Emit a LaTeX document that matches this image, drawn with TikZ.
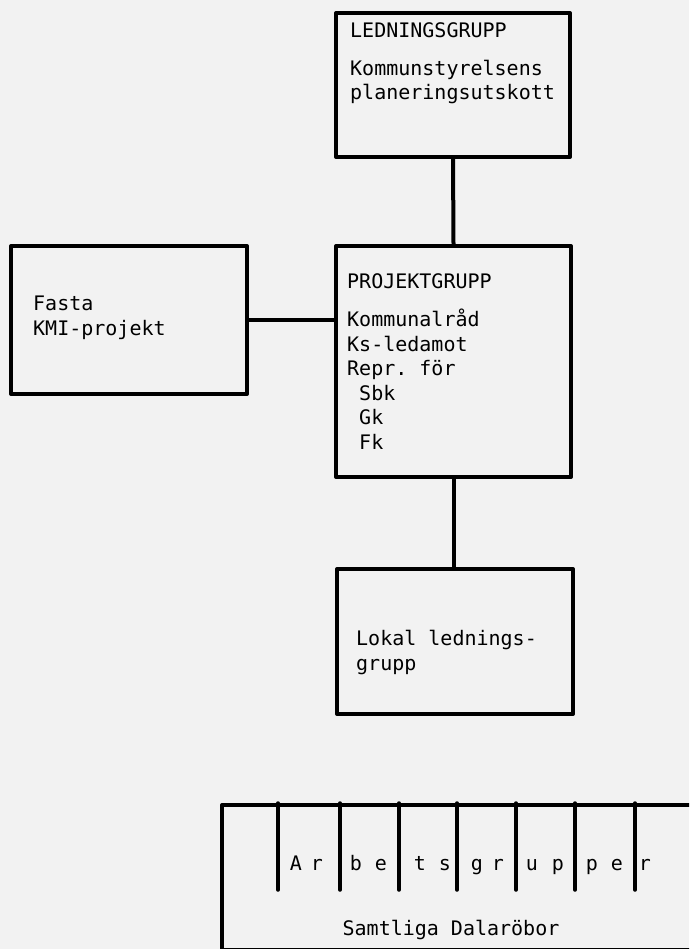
\documentclass[tikz,border=0pt]{standalone}
\usepackage{fontspec}
\setmonofont{DejaVu Sans Mono}
\usepackage{tikz}
\usetikzlibrary{calc}

\begin{document}
\begin{tikzpicture}[x=1pt,y=-1pt,
	box/.style={draw,line width=4pt,line join=round,inner sep=0pt},
	lnk/.style={line width=4pt},
	tick/.style={line width=3.5pt,line cap=round},
	txt/.style={inner sep=0pt,anchor=base west,align=left,font=\ttfamily\fontsize{20}{24.5}\selectfont}]
	%page and paper
	\useasboundingbox (0,0) rectangle (689,949);
	\fill[black!5] (0,0) rectangle (689,949);
	\clip (0,0) rectangle (689,949);
	%% boxes placed by hand
	\node[box,minimum width=234,minimum height=144] (ledn) at (453,85){};
	\node[box,minimum width=235,minimum height=231] (proj) at (453.5,361.5){};
	\node[box,minimum width=236,minimum height=148] (fasta) at (129,320){};
	\node[box,minimum width=236,minimum height=145] (lokal) at (455,641.5){};
	\node[box,minimum width=480,minimum height=145,anchor=north west] (arb) at (220,803){};
	%% connectors
	\draw[lnk] (ledn.south) -- (proj.north);
	\draw[lnk] (fasta.east) -- (fasta.east -| proj.west);
	\draw[lnk] (proj.south) -- (proj.south |- lokal.north);
	%% texts in the boxes (multi-line ones sit on their last baseline)
	\node[txt] (lednhead) at (350,38){LEDNINGSGRUPP};
	\node[txt] (lednbody) at (350,100){Kommunstyrelsens\\planeringsutskott};
	\node[txt] (projhead) at (347,288){PROJEKTGRUPP};
	\node[txt] (projbody) at (347,449){Kommunalråd\\Ks-ledamot\\Repr. för\\\phantom{x}Sbk\\\phantom{x}Gk\\\phantom{x}Fk};
	\node[txt] (fastatext) at (33,335){Fasta\\KMI-projekt};
	\node[txt] (lokaltext) at (356,670){Lokal lednings-\\grupp};
	%% dividers and letters of the working groups drawn with loops
	\foreach \x in {278,340,399,457,516,575,635}{
		\draw[tick] (\x,803) -- (\x,890);
	}
	\foreach \x/\c in {296/A,317/r,356/b,381/e,420/t,445/s,477/g,498/r,532/u,558/p,592/p,617/e,645/r}{
		\node[txt,anchor=base] at (\x,870){\c};
	}
	\node[txt,anchor=base] (samtliga) at (451,935){Samtliga Dalaröbor};
\end{tikzpicture}
\end{document}
